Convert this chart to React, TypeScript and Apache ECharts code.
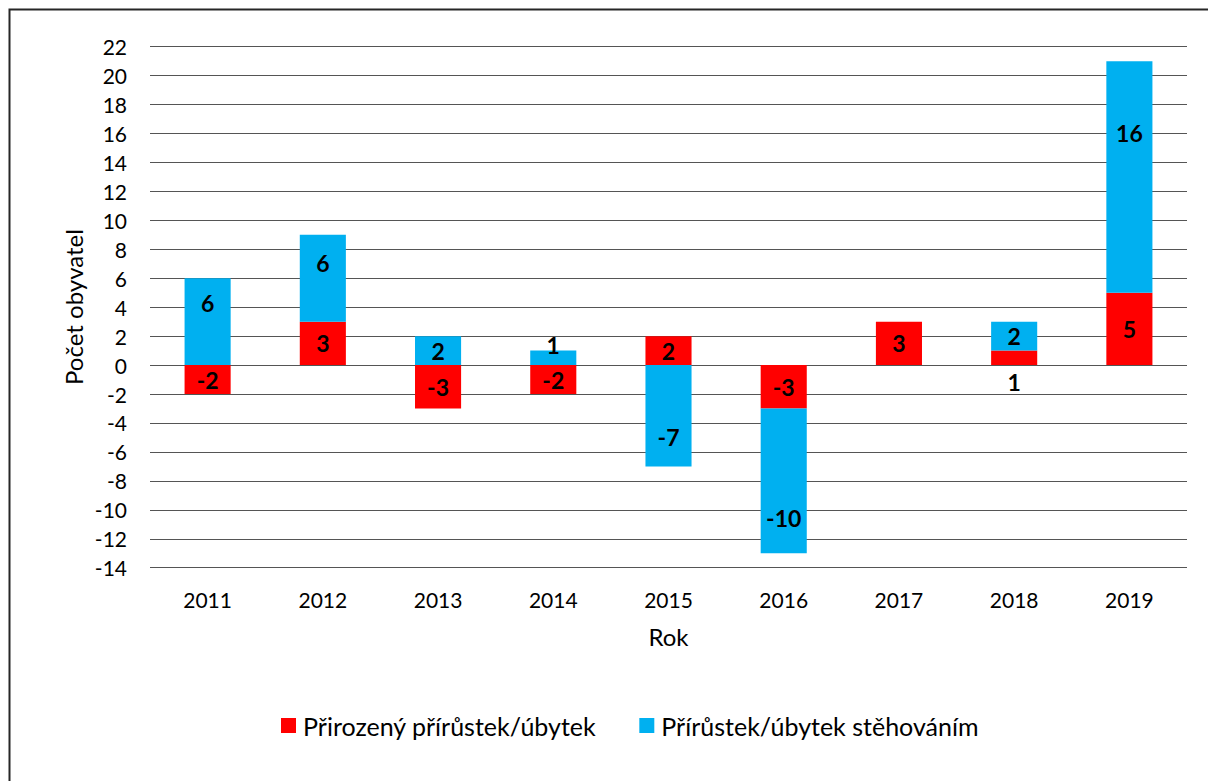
import React, { useEffect, useRef } from "react";
import * as echarts from "echarts";

const years = ["2011", "2012", "2013", "2014", "2015", "2016", "2017", "2018", "2019"];
const natural = [-2, 3, -3, -2, 2, -3, 3, 1, 5];
const migration = [6, 6, 2, 1, -7, -10, 0, 2, 16];
const seriesNames = ["Přirozený přírůstek/úbytek", "Přírůstek/úbytek stěhováním"];
const yMin = -14;
const yMax = 22;
const yStep = 2;
const xTitle = "Rok";
const yTitle = "Počet obyvatel";

// label nudges (styling only, matching the reference's hand-placed labels)
const naturalLabelOffsets: Record<number, [number, number]> = { 7: [0, 24] };
const migrationLabelOffsets: Record<number, [number, number]> = {
  0: [0, -19],
  1: [0, -15],
  3: [0, -13],
  4: [0, 21],
  5: [0, 37],
  8: [0, -44],
};

const FONT = 'Lato, "Open Sans", sans-serif';

function buildData(values: number[], offsets: Record<number, [number, number]>) {
  return values.map((v, i) => {
    const item: any = { value: v };
    if (offsets[i]) item.label = { offset: offsets[i] };
    return item;
  });
}

export default function App() {
  const ref = useRef<HTMLDivElement>(null);
  useEffect(() => {
    if (!ref.current) return;
    const chart = echarts.init(ref.current, null, { renderer: "svg" });
    const labelCfg = {
      show: true,
      position: "inside",
      fontFamily: FONT,
      fontSize: 23,
      fontWeight: "bold",
      color: "#000",
      formatter: (p: any) => (p.value === 0 ? "" : String(p.value)),
    };
    chart.setOption({
      animation: false,
      backgroundColor: "#fff",
      textStyle: { fontFamily: FONT },
      graphic: [
        {
          type: "rect",
          shape: { x: 9.5, y: 9.5, width: 1400, height: 1000 },
          style: { fill: "none", stroke: "#262626", lineWidth: 2 },
          silent: true,
        },
        {
          type: "text",
          x: 73,
          y: 307,
          rotation: Math.PI / 2,
          style: {
            text: yTitle,
            fontFamily: FONT,
            fontSize: 24,
            fill: "#000",
            align: "center",
            verticalAlign: "middle",
          },
        },
      ],
      legend: {
        left: 276,
        top: 708,
        itemWidth: 15,
        itemHeight: 15,
        itemGap: 43,
        icon: "rect",
        textStyle: { fontFamily: FONT, fontSize: 25, color: "#000", padding: [0, 0, 0, 2] },
        data: seriesNames,
      },
      grid: { left: 150, right: 21, top: 46.7, bottom: 213.3, containLabel: false },
      xAxis: {
        type: "category",
        data: years,
        name: xTitle,
        nameLocation: "middle",
        nameGap: 57,
        nameTextStyle: { fontFamily: FONT, fontSize: 24, color: "#000" },
        axisLine: { show: false, onZero: false },
        axisTick: { show: false },
        axisLabel: { fontFamily: FONT, fontSize: 21, color: "#000", margin: 21 },
      },
      yAxis: {
        type: "value",
        min: yMin,
        max: yMax,
        interval: yStep,
        axisLine: { show: false },
        axisTick: { show: false },
        axisLabel: { fontFamily: FONT, fontSize: 21, color: "#000", margin: 23 },
        splitLine: { lineStyle: { color: "#555", width: 1 } },
      },
      series: [
        {
          name: seriesNames[0],
          type: "bar",
          stack: "total",
          barWidth: "40%",
          itemStyle: { color: "#FF0000" },
          label: labelCfg,
          data: buildData(natural, naturalLabelOffsets),
        },
        {
          name: seriesNames[1],
          type: "bar",
          stack: "total",
          barWidth: "40%",
          itemStyle: { color: "#00B0F0" },
          label: labelCfg,
          data: buildData(migration, migrationLabelOffsets),
        },
      ],
    });
    return () => chart.dispose();
  }, []);
  return (
    <div
      ref={ref}
      style={{ position: "fixed", left: 0, top: 0, width: 1208, height: 781 }}
    />
  );
}
